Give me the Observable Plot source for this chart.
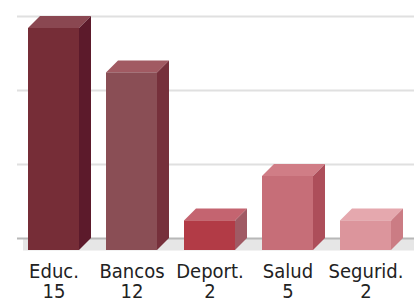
<!DOCTYPE html>
<html>
<head>
<meta charset="utf-8">
<script src="https://cdn.jsdelivr.net/npm/d3@7"></script>
<script src="https://cdn.jsdelivr.net/npm/@observablehq/plot@0.6"></script>
<style>
  html, body { margin: 0; padding: 0; background: #fff; }
  svg { display: block; }
</style>
</head>
<body>
<div id="chart"></div>
<script>
const categories = ["Educ.", "Bancos", "Deport.", "Salud", "Segurid."];
const values = [15, 12, 2, 5, 2];
const frontColors = ["#762d37", "#8a4e55", "#b23b46", "#c66e78", "#dc959c"];
const sideColors  = ["#5c1a2b", "#76303b", "#a05a64", "#ad4e5a", "#cb7c84"];
const topColors   = ["#8a4751", "#a15a62", "#c46470", "#d07d86", "#e5a8ae"];
const gridTicks = [5, 10, 15];

const data = categories.map((c, i) => ({
  cat: c, value: values[i], front: frontColors[i], side: sideColors[i], top: topColors[i]
}));

const depth = 12;

function boxes(rows) {
  return Plot.barY(rows, {
    x: "cat", y: "value",
    render(index, scales) {
      const g = d3.create("svg:g");
      const bwRaw = scales.x.bandwidth;
      const bw = typeof bwRaw === "function" ? bwRaw() : bwRaw;
      const y0 = scales.y(0);
      for (const i of index) {
        const d = rows[i];
        const x0 = scales.x(d.cat), x1 = x0 + bw, yt = scales.y(d.value);
        g.append("path")
          .attr("d", `M${x0},${yt}L${x0 + depth},${yt - depth}L${x1 + depth},${yt - depth}L${x1},${yt}Z`)
          .attr("fill", d.top);
        g.append("path")
          .attr("d", `M${x1},${yt}L${x1 + depth},${yt - depth}L${x1 + depth},${y0 - depth}L${x1},${y0}Z`)
          .attr("fill", d.side);
        g.append("rect")
          .attr("x", x0).attr("y", yt).attr("width", bw).attr("height", y0 - yt)
          .attr("fill", d.front);
      }
      return g.node();
    }
  });
}

const chart = Plot.plot({
  width: 414,
  height: 299,
  marginLeft: 19,
  marginRight: 14,
  marginTop: 28,
  marginBottom: 49,
  x: { domain: categories, paddingInner: 0.34, paddingOuter: 0.1, axis: null },
  y: { domain: [0, 15], axis: null },
  style: { fontFamily: "DejaVu Sans Condensed", background: "#fff" },
  marks: [
    Plot.ruleY([0], { stroke: "#e6e6e6", strokeWidth: 12, dy: -6, insetLeft: 4, insetRight: -14 }),
    Plot.ruleY(gridTicks, { stroke: "#e0e0e0", strokeWidth: 2, dy: -depth, insetLeft: -2, insetRight: -14 }),
    Plot.ruleY([0], { stroke: "#b8b8b8", strokeWidth: 2, dy: -depth, insetLeft: -2, insetRight: -14 }),
    boxes(data),
    Plot.text(data, {
      x: "cat", y: () => 0,
      text: d => `${d.cat}\n${d.value}`,
      lineAnchor: "top", dy: 13, lineHeight: 1,
      fontSize: 20, fill: "#222"
    })
  ]
});
document.getElementById("chart").appendChild(chart);
</script>
</body>
</html>
